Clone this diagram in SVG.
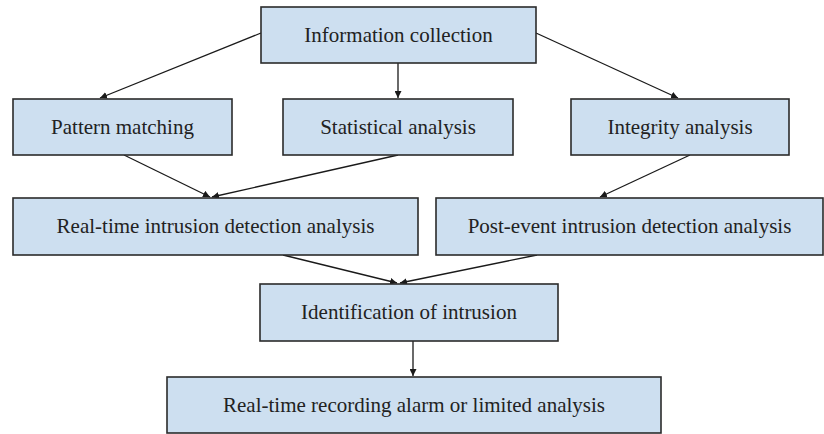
<svg xmlns="http://www.w3.org/2000/svg" width="824" height="434" viewBox="0 0 824 434">
<style>
.box{fill:#cddff0;stroke:#2b2b2b;stroke-width:1.6}
.lbl{font-family:"Liberation Serif","Times New Roman",serif;font-size:21px;fill:#222;text-anchor:middle}
.edge{stroke:#1a1a1a;stroke-width:1.3;fill:none;marker-end:url(#ah)}
</style>
<defs>
<marker id="ah" viewBox="0 0 10 10" refX="10" refY="5" markerWidth="7" markerHeight="7" markerUnits="userSpaceOnUse" orient="auto">
<path d="M0,0 L10,5 L0,10 z" fill="#1a1a1a"/>
</marker>
</defs>
<g id="connectors">
<line class="edge" x1="261" y1="33" x2="100" y2="98"/>
<line class="edge" x1="398" y1="63" x2="398" y2="98"/>
<line class="edge" x1="536" y1="33" x2="678" y2="98"/>
<line class="edge" x1="124" y1="155" x2="210" y2="197"/>
<line class="edge" x1="398" y1="155" x2="212" y2="197"/>
<line class="edge" x1="690" y1="155" x2="600" y2="197"/>
<line class="edge" x1="283" y1="255" x2="397" y2="283"/>
<line class="edge" x1="537" y1="255" x2="400" y2="283"/>
<line class="edge" x1="413" y1="341" x2="413" y2="376"/>
</g>
<g id="n1"><rect class="box" x="261" y="7" width="275" height="56"/><text class="lbl" x="398.5" y="42">Information collection</text></g>
<g id="n2"><rect class="box" x="13" y="99" width="219" height="56"/><text class="lbl" x="122.5" y="134">Pattern matching</text></g>
<g id="n3"><rect class="box" x="283" y="99" width="230" height="56"/><text class="lbl" x="398" y="134">Statistical analysis</text></g>
<g id="n4"><rect class="box" x="571" y="99" width="218" height="56"/><text class="lbl" x="680" y="134">Integrity analysis</text></g>
<g id="n5"><rect class="box" x="13" y="198" width="405" height="57"/><text class="lbl" x="215.5" y="233">Real-time intrusion detection analysis</text></g>
<g id="n6"><rect class="box" x="436" y="198" width="387" height="57"/><text class="lbl" x="629.5" y="233">Post-event intrusion detection analysis</text></g>
<g id="n7"><rect class="box" x="260" y="284" width="298" height="57"/><text class="lbl" x="409" y="319">Identification of intrusion</text></g>
<g id="n8"><rect class="box" x="167" y="377" width="494" height="56"/><text class="lbl" x="414" y="412">Real-time recording alarm or limited analysis</text></g>
</svg>
